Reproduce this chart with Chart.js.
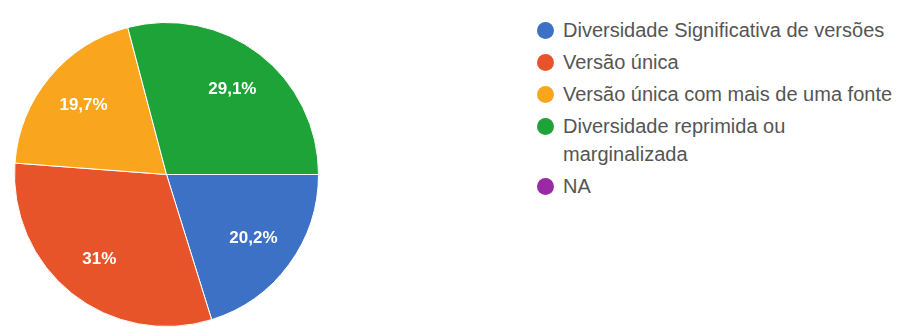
<!DOCTYPE html>
<html lang="pt-BR">
<head>
<meta charset="utf-8">
<title>Gráfico de respostas</title>
<script src="https://cdn.jsdelivr.net/npm/chart.js@4/dist/chart.umd.min.js"></script>
<style>
  body { margin: 0; background: #fff; width: 903px; height: 327px; position: relative; overflow: hidden; font-family: "Liberation Sans", Arial, sans-serif; }
  #pizza { position: absolute; left: 0; top: 0; }
  #legenda { position: absolute; left: 537px; top: 16px; width: 366px; }
  .item { display: flex; align-items: flex-start; margin-bottom: 4px; }
  .bolinha { width: 17px; height: 17px; border-radius: 50%; margin-top: 6px; margin-right: 9px; flex: none; }
  .texto { font-size: 20px; line-height: 28px; color: #555; width: 340px; }
</style>
</head>
<body>
<canvas id="pizza" width="333" height="327"></canvas>
<div id="legenda"></div>
<script>
// Respostas (percentual por categoria)
const categorias = [
  "Diversidade Significativa de versões",
  "Versão única",
  "Versão única com mais de uma fonte",
  "Diversidade reprimida ou marginalizada",
  "NA"
];
const percentuais = [20.2, 31, 19.7, 29.1, 0];
const cores = ["#3c71c6", "#e8542a", "#f9a61e", "#1ea338", "#9a2aa4"];

// Escreve o percentual dentro de cada fatia
const rotulosFatias = {
  id: "rotulosFatias",
  afterDatasetsDraw(chart) {
    const ctx = chart.ctx;
    const valores = chart.data.datasets[0].data;
    chart.getDatasetMeta(0).data.forEach((arc, i) => {
      if (!valores[i]) return;
      const meio = (arc.startAngle + arc.endAngle) / 2;
      const r = arc.outerRadius * 0.71;
      ctx.save();
      ctx.fillStyle = "#fff";
      ctx.font = "bold 17px 'Liberation Sans', Arial, sans-serif";
      ctx.textAlign = "center";
      ctx.textBaseline = "middle";
      ctx.fillText(String(valores[i]).replace(".", ",") + "%", arc.x + Math.cos(meio) * r, arc.y + Math.sin(meio) * r);
      ctx.restore();
    });
  }
};

const grafico = new Chart(document.getElementById("pizza"), {
  type: "pie",
  data: {
    labels: categorias,
    datasets: [{
      data: percentuais,
      backgroundColor: cores,
      borderColor: "#fff",
      borderWidth: 1
    }]
  },
  options: {
    responsive: false,
    animation: false,
    rotation: 90,
    radius: 152,
    layout: { padding: { top: 22, bottom: 0, left: 0, right: 0 } },
    plugins: {
      legend: { display: false },
      tooltip: { enabled: false }
    }
  },
  plugins: [rotulosFatias]
});

// Legenda em HTML, montada a partir dos dados do gráfico
const legenda = document.getElementById("legenda");
grafico.data.labels.forEach((nome, i) => {
  const item = document.createElement("div");
  item.className = "item";
  const bolinha = document.createElement("span");
  bolinha.className = "bolinha";
  bolinha.style.background = grafico.data.datasets[0].backgroundColor[i];
  const texto = document.createElement("span");
  texto.className = "texto";
  texto.textContent = nome;
  item.appendChild(bolinha);
  item.appendChild(texto);
  legenda.appendChild(item);
});
</script>
</body>
</html>
